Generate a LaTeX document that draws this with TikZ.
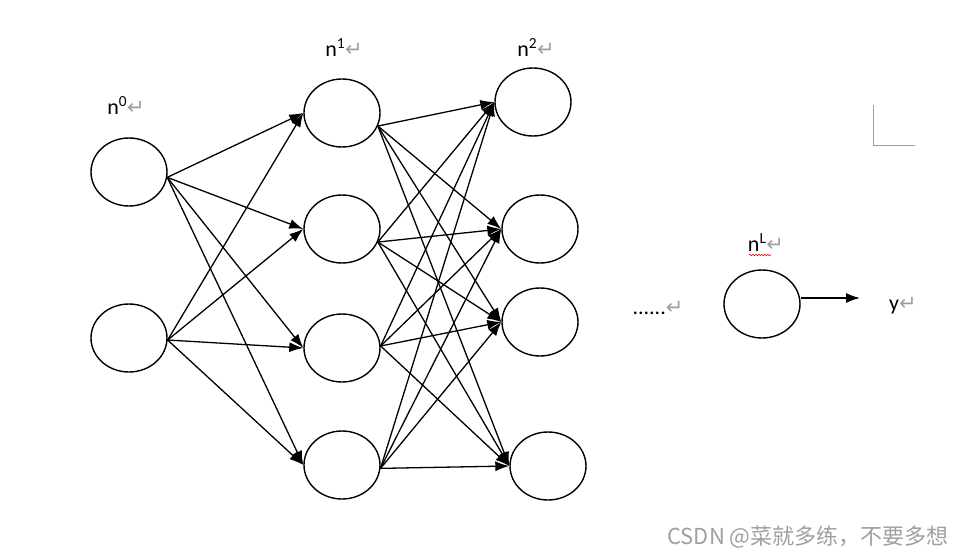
\documentclass[tikz,border=0pt]{standalone}
\usepackage{fontspec}
\setmainfont{Carlito}
\newfontfamily\dejavu{DejaVu Sans}
\newfontfamily\cjk{Noto Sans CJK SC}
\usetikzlibrary{arrows.meta,shapes.geometric,decorations.pathmorphing}
\colorlet{markgray}{gray!75}
\newcommand\retmark{{\color{markgray}\dejavu\fontsize{21}{21}\selectfont ↵}}

\begin{document}
\begin{tikzpicture}[
  x=1pt, y=-1pt,
  neuron/.style={draw, line width=1.4pt, ellipse, minimum width=76pt, minimum height=68pt, inner sep=0pt},
  link/.style={line width=1.3pt, -{Latex[length=14pt,width=10pt]}},
  lbl/.style={font=\fontsize{22}{22}\selectfont, inner sep=0pt, anchor=base},
]
\useasboundingbox (0,0) rectangle (962,555);
% layers
\foreach \i/\y in {1/172,2/338}
  \node[neuron] (a\i) at (129,\y) {};
\foreach \i/\y in {1/113,2/229,3/348,4/465}
  \node[neuron] (b\i) at (342,\y) {};
\foreach \i/\x/\y in {1/533/102,2/540/229,3/540/322,4/548/466}
  \node[neuron] (c\i) at (\x,\y) {};
\node[neuron] (last) at (762,304) {};
% connections
\foreach \i/\s in {1/-8,2/-3}
  \foreach \j in {1,...,4}
    \draw[link] (a\i.\s) -- (b\j.west);
\foreach \i/\s in {1/-20,2/-20,3/3,4/-5}
  \foreach \j in {1,...,4}
    \draw[link] (b\i.\s) -- (c\j.west);
\coordinate (out) at (860,298);
\draw[link] (last.east |- out) -- (out);
% labels
\node[lbl] (l0) at (126,114) {n\textsuperscript{0}\retmark};
\node[lbl] (l1) at (344,56) {n\textsuperscript{1}\retmark};
\node[lbl] (l2) at (536,56) {n\textsuperscript{2}\retmark};
\node[lbl] (lL) at (766,251) {n\textsuperscript{L}\retmark};
\draw[red, line width=0.6pt, decorate, decoration={snake, amplitude=0.8pt, segment length=3pt}]
  (749,255) -- (771,255);
\node[lbl] (dots) at (658,314) {......\retmark};
\node[lbl] (ly) at (903,310) {y\retmark};
% page corner
\draw[markgray, line width=0.8pt] (873,105) -- (873,145) -- (915,145);
% watermark
\node[gray!75, font=\cjk\fontsize{22}{22}\selectfont, inner sep=0pt] (wm) at (808,537) {CSDN @菜就多练，不要多想};
\end{tikzpicture}
\end{document}
